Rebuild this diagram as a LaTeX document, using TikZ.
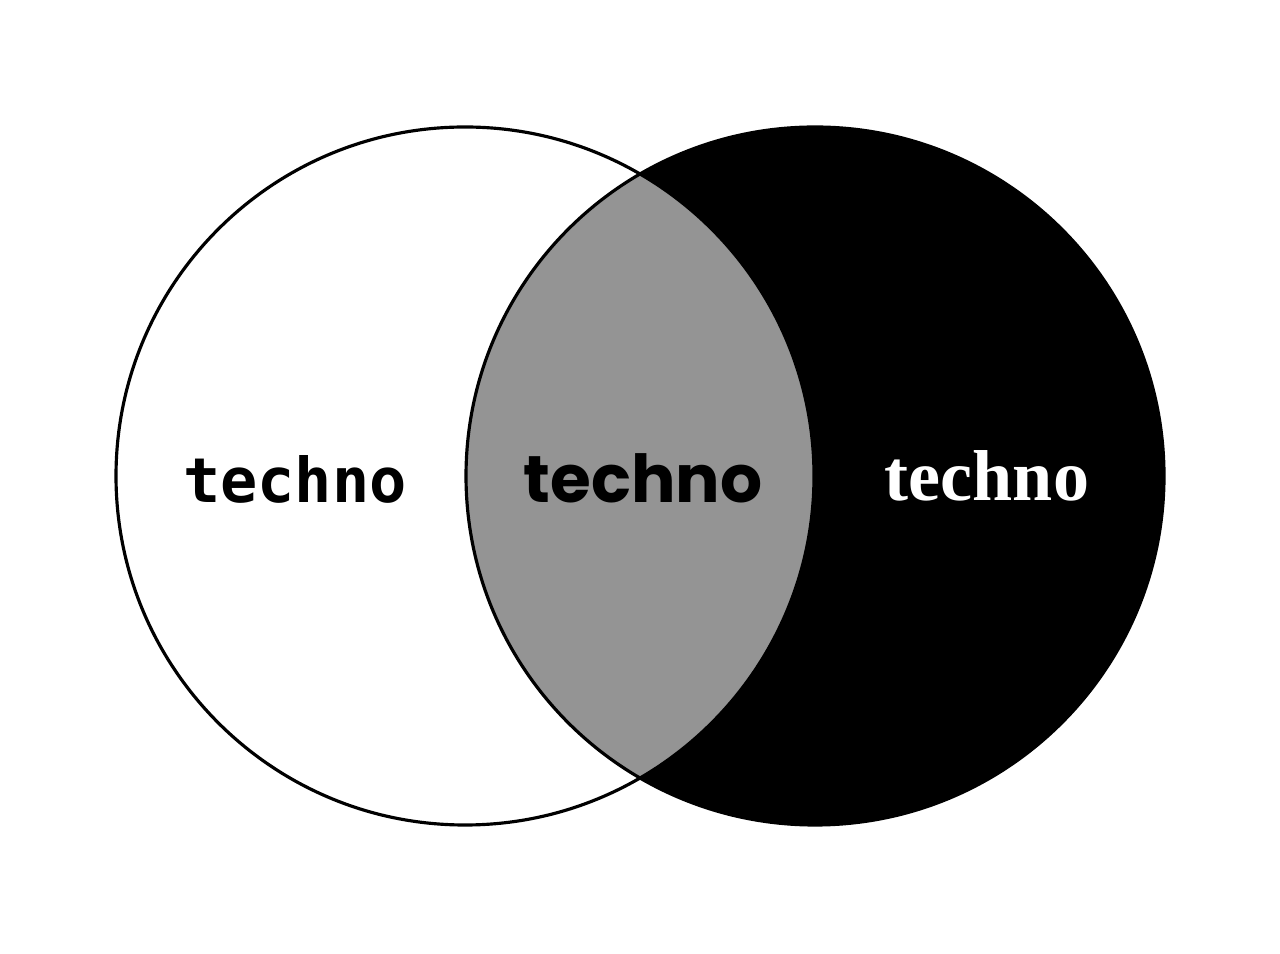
\documentclass[tikz,border=0pt]{standalone}
\usepackage{fontspec}
\usepackage{tikz}
\newfontfamily\monofont{DejaVu Sans Mono}
\newfontfamily\roundfont{Poppins}
\newfontfamily\serifont{Liberation Serif}
\usetikzlibrary{positioning}

\begin{document}
\begin{tikzpicture}[
        every node/.style={inner sep=0pt, anchor=base},
        ring/.style={line width=0.9pt},
        leftlabel/.style={font=\monofont\bfseries\fontsize{17.6}{20}\selectfont},
        midlabel/.style={font=\roundfont\bfseries\fontsize{18.8}{22}\selectfont},
        rightlabel/.style={font=\serifont\bfseries\fontsize{20.5}{24}\selectfont, text=white}
    ]
        \useasboundingbox (0,0) rectangle (12.8,9.53);

        \coordinate (cl) at (4.65,4.77);
        \coordinate (cr) at (8.15,4.77);

        % right set, then the overlap
        \fill[black] (cr) circle (3.49);
        \begin{scope}
            \clip (cl) circle (3.49);
            \fill[black!42] (cr) circle (3.49);
        \end{scope}
        \draw[ring] (cl) circle (3.49);
        \draw[ring] (cr) circle (3.49);

        \node[leftlabel] (tl) at (2.95,4.50) {techno};
        \node[midlabel] (tm) at (6.43,4.50) {techno};
        \node[rightlabel] (tr) at (9.87,4.52) {techno};
    \end{tikzpicture}
\end{document}
